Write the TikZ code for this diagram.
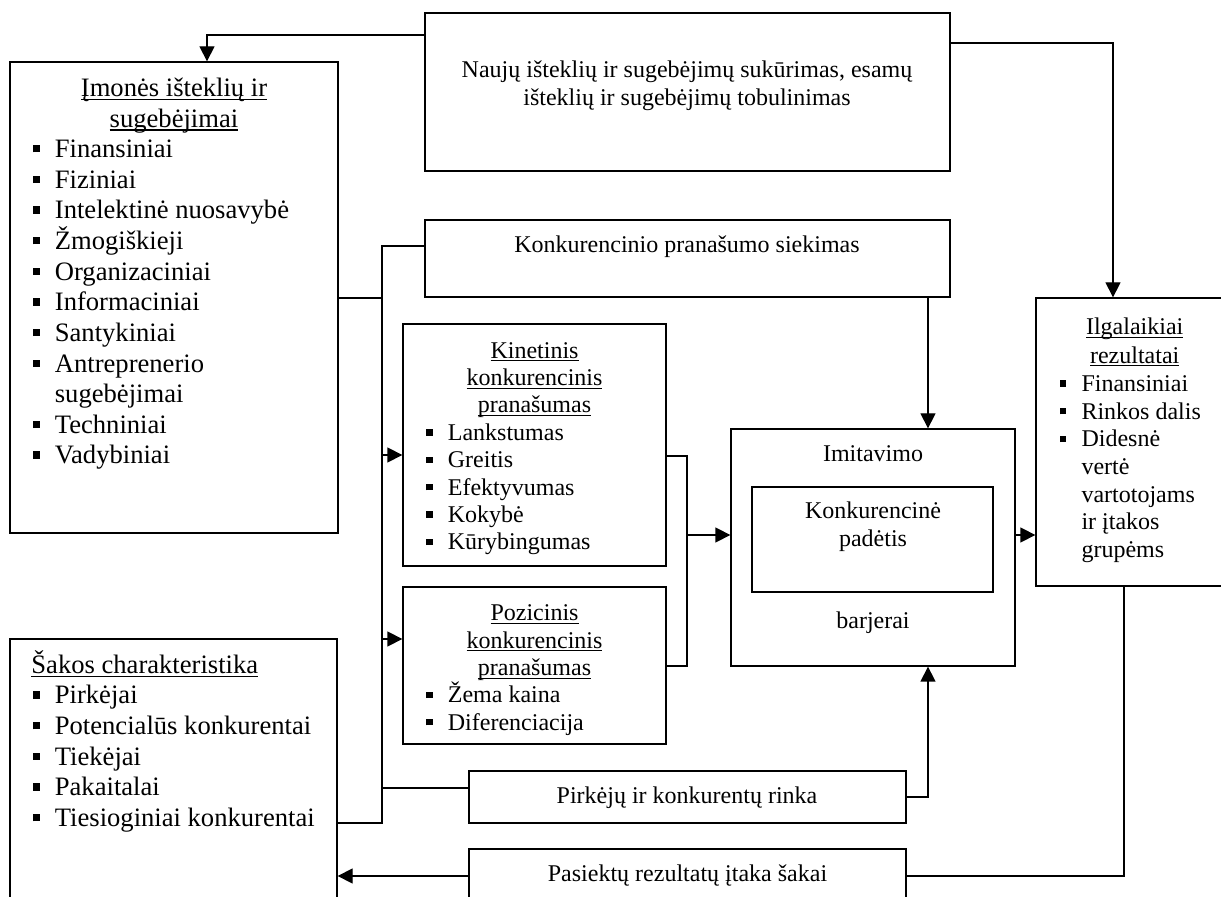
\documentclass[tikz,border=0pt]{standalone}
\usepackage{fontspec}
\setmainfont{Liberation Serif}
\usetikzlibrary{arrows.meta,fit}

% underlined heading with a fixed rule just below the baseline
\newcommand\ulin[1]{\setbox0=\hbox{#1}\rlap{\rule[-0.13em]{\wd0}{0.05em}}\box0}
% square bullet followed by the item indent
\newcommand\sqb{\makebox[10.9pt][l]{\rule[0.2em]{0.27em}{0.27em}}}
\newcommand\nob{\hspace*{10.9pt}}
\newcommand\fbig{\fontsize{13.3pt}{15.3pt}\selectfont}
\newcommand\fsmall{\fontsize{12pt}{13.8pt}\selectfont}

\begin{document}
\begin{tikzpicture}[x=0.5pt,y=-0.5pt,
  box/.style={draw, line width=0.65pt, inner sep=0pt},
  wire/.style={line width=0.65pt},
  arr/.style={wire, -{Triangle[length=7.5pt,width=7.5pt]}},
  lbl/.style={inner sep=0pt, anchor=base},
  lblw/.style={inner sep=0pt, anchor=base west},
  big/.style={font=\fbig},
  small/.style={font=\fsmall}]

\useasboundingbox (0,0) rectangle (1221,897);
\clip (0,0) rectangle (1221,897);

% ---- boxes ----
\node[box, fit={(10,62) (338,533)}] (imone) {};
\node[box, fit={(425,13) (950,171)}] (naujas) {};
\node[box, fit={(425,220) (950,297)}] (siekis) {};
\node[box, fit={(403,324) (666,566)}] (kinet) {};
\node[box, fit={(403,587) (666,744)}] (pozic) {};
\node[box, fit={(731,429) (1015,666)}] (imit) {};
\node[box, fit={(752,487) (993,592)}] (padet) {};
\node[box, fit={(1036,298) (1233,586)}] (ilgal) {};
\node[box, fit={(10,639) (337,915)}] (sakos) {};
\node[box, fit={(469,771) (906,823)}] (rinka) {};
\node[box, fit={(469,849) (906,903)}] (itaka) {};

% ---- texts ----
\node[lbl,big] (imT1) at (174,96.5) {\ulin{Įmonės išteklių ir}};
\node[lbl,big] (imT2) at (174,127.1) {\ulin{sugebėjimai}};
\foreach \t/\b [count=\i] in {Finansiniai/1, Fiziniai/1, Intelektinė nuosavybė/1,
    Žmogiškieji/1, Organizaciniai/1, Informaciniai/1, Santykiniai/1,
    Antreprenerio/1, sugebėjimai/0, Techniniai/1, Vadybiniai/1}
  \node[lblw,big] (imI\i) at (32.7,{157.7+(\i-1)*30.63}) {\ifnum\b=1 \sqb\else\nob\fi\t};

\node[lbl,small] (naL1) at (687,77.3) {Naujų išteklių ir sugebėjimų sukūrimas, esamų};
\node[lbl,small] (naL2) at (687,106) {išteklių ir sugebėjimų tobulinimas};
\node[lbl,small] (siL) at (687,252.3) {Konkurencinio pranašumo siekimas};

\node[lbl,small] (kiT1) at (534.5,358.3) {\ulin{Kinetinis}};
\node[lbl,small] (kiT2) at (534.5,385.7) {\ulin{konkurencinis}};
\node[lbl,small] (kiT3) at (534.5,413) {\ulin{pranašumas}};
\foreach \t [count=\i] in {Lankstumas, Greitis, Efektyvumas, Kokybė, Kūrybingumas}
  \node[lblw,small] (kiI\i) at (425.7,{440.4+(\i-1)*27.4}) {\sqb\t};

\node[lbl,small] (poT1) at (534.5,621) {\ulin{Pozicinis}};
\node[lbl,small] (poT2) at (534.5,648.3) {\ulin{konkurencinis}};
\node[lbl,small] (poT3) at (534.5,675.6) {\ulin{pranašumas}};
\foreach \t [count=\i] in {Žema kaina, Diferenciacija}
  \node[lblw,small] (poI\i) at (425.7,{703+(\i-1)*27.3}) {\sqb\t};

\node[lbl,small] (imL1) at (873,461.7) {Imitavimo};
\node[lbl,small] (paL1) at (873,518.3) {Konkurencinė};
\node[lbl,small] (paL2) at (873,546.7) {padėtis};
\node[lbl,small] (imL2) at (873,628.3) {barjerai};

\node[lbl,small] (ilT1) at (1134.7,335) {\ulin{Ilgalaikiai}};
\node[lbl,small] (ilT2) at (1134.7,363.3) {\ulin{rezultatai}};
\foreach \t/\b [count=\i] in {Finansiniai/1, Rinkos dalis/1, Didesnė/1, vertė/0,
    vartotojams/0, ir įtakos/0, grupėms/0}
  \node[lblw,small] (ilI\i) at (1059.3,{391.7+(\i-1)*27.6}) {\ifnum\b=1 \sqb\else\nob\fi\t};

\node[lblw,big] (saT) at (31,674) {\ulin{Šakos charakteristika}};
\foreach \t [count=\i] in {Pirkėjai, Potencialūs konkurentai, Tiekėjai, Pakaitalai,
    Tiesioginiai konkurentai}
  \node[lblw,big] (saI\i) at (32.7,{704+(\i-1)*30.65}) {\sqb\t};

\node[lbl,small] (riL) at (687,803.3) {Pirkėjų ir konkurentų rinka};
\node[lbl,small] (itL) at (687.5,881.7) {Pasiektų rezultatų įtaka šakai};

% ---- bend points ----
\coordinate (b1) at (207,35);
\coordinate (b2) at (1113,43);
\coordinate (busT) at (382,246);
\coordinate (busM) at (382,298);
\coordinate (busK) at (382,455);
\coordinate (busP) at (382,639);
\coordinate (busR) at (382,788);
\coordinate (busB) at (382,823);
\coordinate (jT) at (687,456);
\coordinate (jM) at (687,535);
\coordinate (jB) at (687,666);
\coordinate (c9) at (928,797);
\coordinate (q) at (1124,876);

% ---- connectors ----
\draw[arr] (naujas.west |- b1) -| (imone.north -| b1);
\draw[arr] (naujas.east |- b2) -| (ilgal.north -| b2);
\draw[wire] (siekis.west |- busT) -- (busT) -- (busB) -- (sakos.east |- busB);
\draw[wire] (imone.east |- busM) -- (busM);
\draw[arr] (busK) -- (kinet.west |- busK);
\draw[arr] (busP) -- (pozic.west |- busP);
\draw[wire] (busR) -- (rinka.west |- busR);
\draw[wire] (kinet.east |- jT) -- (jT) -- (jB) -- (pozic.east |- jB);
\draw[arr] (jM) -- (imit.west |- jM);
\draw[arr] (siekis.south -| c9) -- (imit.north -| c9);
\draw[arr] (rinka.east |- c9) -- (c9) -- (imit.south -| c9);
\draw[arr] (imit.east |- jM) -- (ilgal.west |- jM);
\draw[wire] (ilgal.south -| q) -- (q) -- (itaka.east |- q);
\draw[arr] (itaka.west |- q) -- (sakos.east |- q);
\end{tikzpicture}
\end{document}
